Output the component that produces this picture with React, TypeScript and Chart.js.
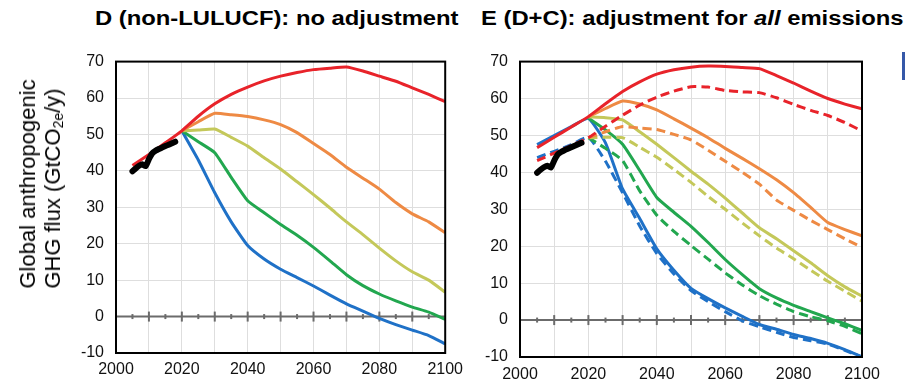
import React, { useEffect, useRef } from "react";
import { Chart, registerables } from "chart.js";
Chart.register(...registerables);

// ---------- data ----------
const YEARS = [2005, 2010, 2015, 2020, 2025, 2030, 2035, 2040, 2045, 2050, 2055, 2060, 2065, 2070, 2075, 2080, 2085, 2090, 2095, 2100];
const HIST_YEARS = [2005, 2006, 2007, 2008, 2009, 2010, 2011, 2012, 2013, 2014, 2015, 2016, 2017, 2018];
const HIST = [39.9, 40.7, 41.4, 41.8, 41.3, 43.2, 44.8, 45.5, 46.0, 46.4, 46.8, 47.2, 47.6, 48.0];

// Panel D (non-LULUCF, no adjustment)
const D_RED = [41.5, 44.5, 47.7, 51, 55, 58.4, 61, 63, 64.7, 66, 67, 67.8, 68.2, 68.5, 67.4, 66, 64.6, 62.8, 61, 59];
const D_ORANGE = [null, null, null, 51, 53.5, 55.8, 55.4, 54.9, 54, 52.7, 50.5, 47.5, 44.5, 41, 38, 35, 31.3, 28.2, 26, 23];
const D_YELLOW = [null, null, null, 51, 51.2, 51.5, 49.2, 46.8, 43.6, 40.5, 37, 33.5, 29.8, 26, 22.5, 18.8, 15.3, 12.3, 10, 6.7];
const D_GREEN = [null, null, null, 51, 48, 45, 38.2, 31.8, 28.5, 25.3, 22.3, 19, 15.3, 11.5, 8.5, 6.2, 4.3, 2.6, 1.2, -0.8];
const D_BLUE = [null, null, null, 51, 43, 34, 26, 19.5, 15.8, 13, 10.7, 8.4, 5.9, 3.5, 1.5, -0.5, -2.2, -3.7, -5.2, -7.5];

// Panel E (D+C, adjustment for all emissions) — solid and dashed variants
const E_RED = [46.7, 49.5, 52.3, 55.1, 58.6, 61.9, 64.5, 66.6, 67.8, 68.5, 68.8, 68.7, 68.4, 68.1, 66.2, 64.2, 62, 60, 58.5, 57.2];
const E_RED_DASH = [43.2, 45.2, 47.3, 49.4, 52.5, 55.5, 58.2, 60.4, 62, 63.2, 63.1, 62.2, 61.8, 61.6, 60.2, 58.4, 56.8, 55.4, 53.5, 51.2];
const E_ORANGE = [null, null, null, 55.1, 57.3, 59.3, 58.5, 56.9, 54.5, 52, 49.4, 46.5, 43.8, 41, 38, 34.5, 30.5, 26.4, 24.5, 22.8];
const E_ORANGE_DASH = [null, null, null, 49.4, 51, 52.4, 52, 51.6, 50.3, 48.8, 46, 43, 40, 36.8, 32.5, 29.7, 27, 24.5, 22, 19.7];
const E_YELLOW = [null, null, null, 55, 54.8, 54.2, 51, 47.6, 44, 40.3, 36.8, 33, 29, 25, 22, 18.8, 15.5, 12, 9, 6.5];
const E_YELLOW_DASH = [null, null, null, 49.4, 49.5, 49.4, 46.8, 44.1, 40.8, 37.3, 33.5, 30, 26.3, 22.8, 19.5, 16.6, 13.5, 10.5, 7.8, 5.1];
const E_GREEN = [null, null, null, 54.7, 51.5, 47.6, 40.5, 33.2, 29.2, 25.4, 21, 16.4, 12.3, 8.5, 6, 4, 2.3, 0.6, -1, -2.8];
const E_GREEN_DASH = [null, null, null, 49.4, 46.5, 43.2, 35, 28.4, 24, 20.2, 16.5, 12.8, 9.5, 6.6, 4.3, 2.3, 0.9, -0.2, -1.7, -3.7];
const E_BLUE = [47.5, 50, 52.4, 54.6, 48, 35.5, 27.5, 19.3, 13.5, 8.6, 5.8, 3.3, 1, -1.2, -2.5, -3.9, -5, -6.3, -8, -10];
const E_BLUE_DASH = [44, 45.7, 47.5, 49.5, 43, 34.5, 25.5, 18, 12.5, 8, 5, 2.3, -0.2, -1.8, -3.3, -4.7, -5.6, -6.5, -8.2, -10];

const X_MIN = 2000;
const X_MAX = 2100;
const Y_MIN = -10;
const Y_MAX = 70;

// ---------- styles ----------
const RED = "#e8232a";
const ORANGE = "#ee8a44";
const YELLOW = "#c4c85a";
const GREEN = "#22a74f";
const BLUE = "#1f71c7";
const FONT = "'Liberation Sans', Arial, Helvetica, sans-serif";

const pts = (xs: number[], ys: (number | null)[]) => xs.map((x, i) => ({ x, y: ys[i] }));

const line = (label: string, ys: (number | null)[], color: string, dashed = false, width = 3) => ({
  label,
  data: pts(YEARS, ys),
  borderColor: color,
  backgroundColor: color,
  borderWidth: width,
  borderDash: dashed ? [9, 5] : [],
  pointRadius: 0,
  tension: 0.15,
  fill: false,
  spanGaps: false,
});

const histSet = () => ({
  label: "historical",
  data: pts(HIST_YEARS, HIST),
  borderColor: "#000",
  backgroundColor: "#000",
  borderWidth: 6,
  pointRadius: 0,
  tension: 0.2,
  borderCapStyle: "round",
  borderJoinStyle: "round",
  fill: false,
});

const framePlugin = {
  id: "frame",
  beforeDatasetsDraw(chart: any) {
    const { ctx, chartArea, scales } = chart;
    const y0 = scales.y.getPixelForValue(0);
    ctx.save();
    ctx.strokeStyle = "#6b6b6b";
    ctx.lineWidth = 2;
    ctx.beginPath();
    ctx.moveTo(chartArea.left, y0);
    ctx.lineTo(chartArea.right, y0);
    ctx.stroke();
    for (let yr = X_MIN + 5; yr < X_MAX; yr += 5) {
      const px = scales.x.getPixelForValue(yr);
      const h = yr % 10 === 0 ? 5 : 2.5;
      ctx.beginPath();
      ctx.moveTo(px, y0 - h);
      ctx.lineTo(px, y0 + h);
      ctx.stroke();
    }
    ctx.restore();
  },
  afterDraw(chart: any) {
    const { ctx, chartArea } = chart;
    ctx.save();
    ctx.strokeStyle = "#000";
    ctx.lineWidth = 2;
    ctx.strokeRect(chartArea.left, chartArea.top, chartArea.right - chartArea.left, chartArea.bottom - chartArea.top);
    ctx.restore();
  },
};

function makeConfig(datasets: any[], pad: any, yWidth: number, xHeight: number, xPad: number) {
  return {
    type: "line",
    data: { datasets },
    options: {
      animation: false,
      responsive: false,
      maintainAspectRatio: false,
      layout: { padding: pad },
      plugins: { legend: { display: false }, tooltip: { enabled: false }, title: { display: false } },
      scales: {
        x: {
          type: "linear",
          min: X_MIN,
          max: X_MAX,
          afterFit: (s: any) => { s.height = xHeight; },
          border: { display: false },
          grid: { color: "#dedede", lineWidth: 1, drawTicks: false },
          ticks: {
            stepSize: 10,
            autoSkip: false,
            maxRotation: 0,
            padding: xPad,
            color: "#111",
            font: { family: FONT, size: 16 },
            callback: (v: number) => (v % 20 === 0 ? String(v) : ""),
          },
        },
        y: {
          type: "linear",
          min: Y_MIN,
          max: Y_MAX,
          afterFit: (s: any) => { s.width = yWidth; },
          border: { display: false },
          grid: { color: "#dedede", lineWidth: 1, drawTicks: false },
          ticks: {
            stepSize: 10,
            padding: 12,
            color: "#111",
            font: { family: FONT, size: 16 },
          },
        },
      },
    },
    plugins: [framePlugin],
  };
}

function ChartCanvas({ config, style, width, height }: any) {
  const ref = useRef<HTMLCanvasElement | null>(null);
  useEffect(() => {
    if (!ref.current) return;
    const chart = new Chart(ref.current, config);
    return () => chart.destroy();
  }, []);
  return <canvas ref={ref} width={width} height={height} style={{ position: "absolute", ...style, width, height }} />;
}

export default function App() {
  const dSets = [
    histSet(),
    line("red", D_RED, RED),
    line("orange", D_ORANGE, ORANGE),
    line("yellow", D_YELLOW, YELLOW),
    line("green", D_GREEN, GREEN),
    line("blue", D_BLUE, BLUE),
  ];
  const eSets = [
    histSet(),
    line("red", E_RED, RED),
    line("red dashed", E_RED_DASH, RED, true),
    line("orange", E_ORANGE, ORANGE),
    line("orange dashed", E_ORANGE_DASH, ORANGE, true),
    line("yellow", E_YELLOW, YELLOW),
    line("yellow dashed", E_YELLOW_DASH, YELLOW, true),
    line("green", E_GREEN, GREEN),
    line("green dashed", E_GREEN_DASH, GREEN, true),
    line("blue", E_BLUE, BLUE),
    line("blue dashed", E_BLUE_DASH, BLUE, true),
  ];
  const dConfig = makeConfig(dSets, { top: 13, right: 9, left: 0, bottom: 0 }, 56, 28, 7);
  const eConfig = makeConfig(eSets, { top: 15, right: 43, left: 0, bottom: 0 }, 50, 24, 8);

  const titleStyle: React.CSSProperties = {
    position: "absolute",
    top: 6,
    fontFamily: FONT,
    fontWeight: "bold",
    fontSize: 20,
    whiteSpace: "nowrap",
    color: "#000",
    lineHeight: "24px",
    transform: "scaleX(1.19)",
    transformOrigin: "0 0",
  };

  return (
    <div style={{ position: "fixed", left: 0, top: 0, width: 905, height: 381, background: "#fff", overflow: "hidden" }}>
      <div style={{ ...titleStyle, left: 95 }}>D (non-LULUCF): no adjustment</div>
      <div style={{ ...titleStyle, left: 481 }}>
        E (D+C): adjustment for <i>all</i> emissions
      </div>
      <ChartCanvas config={dConfig} width={410} height={341} style={{ left: 60, top: 40 }} />
      <ChartCanvas config={eConfig} width={435} height={341} style={{ left: 470, top: 40 }} />
      <div style={{ position: "absolute", left: 40, top: 184, width: 0, height: 0 }}>
        <div
          style={{
            position: "absolute",
            left: 0,
            top: 0,
            transform: "translate(-50%, -50%) rotate(-90deg)",
            fontFamily: FONT,
            fontSize: 22,
            lineHeight: "25px",
            whiteSpace: "nowrap",
            textAlign: "left",
            color: "#000",
          }}
        >
          Global anthropogenic
          <br />
          GHG flux (GtCO<sub style={{ fontSize: 14, verticalAlign: "-3px", lineHeight: 0 }}>2e</sub>/y)
        </div>
      </div>
      <div style={{ position: "absolute", left: 902, top: 52, width: 3, height: 28, background: "#3558a8" }} />
    </div>
  );
}
